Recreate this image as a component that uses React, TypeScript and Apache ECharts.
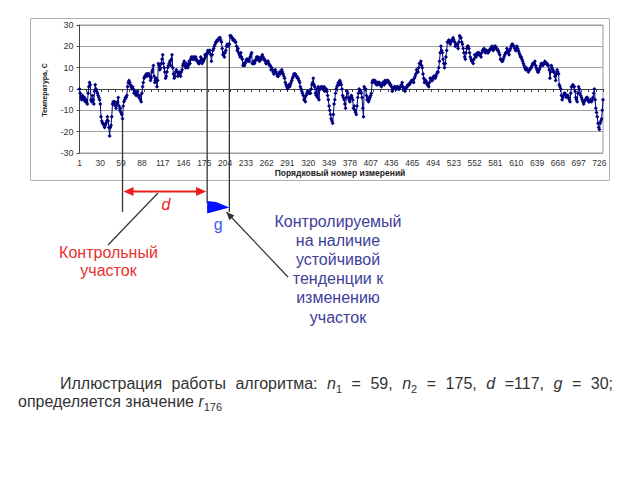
import React, { useEffect, useRef } from "react";
import * as echarts from "echarts";

const temperatures: number[] = [
  0, -2, -4, -5, -3, -4, -5, -4, -6, -5,
  -6, -7, -2, 1, 3, 2, -5, -6, -3, -5,
  -7, -1, 2, 0, -1, -2, -3, -4, -5, -7,
  -13, -15, -16, -16, -17, -18, -17, -16, -15, -13,
  -15, -18, -22, -18, -17, -13, -7, -6, -7, -6,
  -8, -9, -7, -6, -4, -8, -10, -9, -11, -12,
  -14, -8, -6, -5, -4, -4, -3, 1, 3, 4,
  3, 2, 1, 0, 1, 0, -2, -1, -2, -3,
  -2, -1, -3, -4, -3, -5, -6, -2, 1, 3,
  5, 6, 6, 7, 6, 7, 7, 7, 6, 4,
  5, 8, 9, 11, 6, 3, 4, 5, 1, 4,
  12, 11, 9, 10, 12, 14, 16, 12, 10, 8,
  5, 6, 8, 10, 11, 12, 13, 11, 14, 16,
  10, 7, 5, 6, 8, 9, 8, 6, 7, 8,
  7, 6, 8, 9, 11, 12,
  13, 11, 10, 12, 11,
  10, 11, 13, 12, 14, 15, 14, 15, 14, 15,
  14, 15, 14, 13, 13, 12, 12, 13, 15, 14,
  12, 14, 13, 14, 16, 15, 16, 17, 18, 17,
  18, 18, 16, 13, 16, 18, 19, 20, 21, 22,
  22, 23, 23, 23, 24, 24, 23, 22, 19, 16,
  17, 15, 17, 18, 20, 21, 20, 21, 21, 25,
  25, 24, 24, 23, 23, 23, 22, 22, 20, 18,
  19, 17, 16, 15, 17, 15, 14, 11, 12, 11,
  12, 13, 14, 14, 13, 14, 13, 15, 16, 17,
  12, 12, 13, 12, 13, 14, 15, 14, 15, 14,
  13, 14, 15, 14, 16, 15, 14, 14, 13, 12,
  12, 13, 13, 12, 11, 11, 9, 10, 9, 8,
  7, 8, 9, 8, 7, 6, 6, 7, 8, 7,
  8, 9, 8, 7, 6, 5, 3, 2, 1, 0, 1,
  2, 1, 2, 3, 4, 5, 6, 7, 7, 7,
  6, 6, 5, 5, 4, 3, 1, 0, -1, -2,
  -3, -5, -4, -6, -3, -2, -1, -2, -1, -2,
  -2, 0, 2, 3, 5, 2, 1, -2, -3, 0,
  -4, 1, -5, 0, 0, 1, 1, 0, 0, 1,
  -1, 0, 0, -1, -3, -5, -8, -10, -12, -14,
  -15, -16, -12, -7, -5, -2, 0, 1, 2, 3,
  2, 4, 3, 2, 0, -3, -4, -5, -7, -9,
  -4, -1, -2, -4, -5, -6, -4, -3, -4, -5,
  -9, -8, -10, -11, -12, -8, -4, -2, 0, -1,
  -1, -2, -4, -9, -13, 1, 0, 0, -3, -5,
  -4, -6, -5, -4, -3, -2, 3, 4, 4, 3,
  4, 3, 2, 3, 2, 3, 3, 2, 2, 1,
  2, 3, 3, 2, 4, 3, 3, 4, 4, 3,
  3, 2, 2, 1, -1, 0,
  0, 1, 1, 0, 0,
  1, 1, 0, 0, 1, 1, 2, 3, 1, 0,
  0, -1, 0, 1, 1, 2, 2, 2, 3, 3,
  4, 4, 4, 3, 5, 6, 7, 9, 8, 8,
  10, 12, 12, 13, 11, 10, 7, 5, 3, 4,
  4, 3, 2, 2, 1, 3, 5, 5, 4, 4,
  5, 6, 6, 5, 6, 7, 8, 8, 10, 13,
  17, 20, 18, 17, 14, 12, 10, 12, 15, 18,
  22, 22, 23, 22, 21, 22, 23, 23, 24, 23,
  22, 20, 21, 21, 20, 19, 22, 25, 24, 24,
  22, 21, 19, 17, 15, 14, 17, 19, 20, 20,
  19, 17, 15, 14, 13, 13, 12, 14, 16, 16,
  15, 16, 17, 16, 17, 16, 16, 15, 17, 18,
  18, 19, 18, 17, 18, 18, 17, 17, 18, 18,
  19, 19, 20, 19, 18, 19, 20, 20, 19, 19, 18,
  18, 17, 16, 14, 14, 13, 13, 14, 15, 16,
  17, 17, 19, 18, 17, 16, 18, 19, 20, 21,
  21, 20, 20, 19, 18, 18, 20, 19, 18, 17,
  16, 15, 15, 14, 13, 12, 11, 10, 9, 10,
  9, 9, 8, 9, 9, 10, 10, 11, 12, 12,
  12, 13, 11, 10, 9, 8, 8, 9, 10, 11,
  12, 12, 11, 12, 12, 13, 12, 12, 12, 11,
  11, 9, 5, 8, 11, 10, 9, 8, 8, 6,
  4, 7, 9, 8, 7, 2, 1, 0, -3, -5,
  -4, -3, -2, -2, -3, -4, -3, -3, -4, -5,
  -6, -2, 1, 1, 2, 1, 1, -1, -4, -5,
  -6, -2, 1, 0, -2, -3, -4, -5, -6, -7,
  -6, -5, -5, -4, -4, -5, -6, -6, -5, -5,
  -6, -5, -4, -2, 0, -5, -9, -11, -13, -16, -18,
  -19, -16, -15, -14, -10, -5,
];

const categories: string[] = temperatures.map((_, i) => String(i + 1));
const yMin = -30;
const yMax = 30;
const yStep = 10;
const labelStep = 29;
// category indices (0-based) where the reference draws its three vertical markers
const markerIndices: number[] = [60, 178, 209];

const yAxisTitle = "Температура, С";
const xAxisTitle = "Порядковый номер измерений";
const controlLabel = ["Контрольный", "участок"];
const checkedLabel = ["Контролируемый", "на наличие", "устойчивой", "тенденции к", "изменению", "участок"];
const n1 = 59;
const n2 = 175;
const dVal = 117;
const gVal = 30;
const rIndex = 176;

const FONT = "'Liberation Sans', Arial, sans-serif";

export default function App() {
  const ref = useRef<HTMLDivElement>(null);

  useEffect(() => {
    document.body.style.margin = "0";
    const chart = echarts.init(ref.current!, null, { renderer: "svg" });
    chart.setOption({
      animation: false,
      backgroundColor: "#fff",
      grid: {
        left: 79.5,
        right: 37,
        top: 25,
        bottom: 327,
        show: true,
        borderColor: "#999",
        borderWidth: 1,
        backgroundColor: "#fff",
      },
      xAxis: {
        type: "category",
        data: categories,
        boundaryGap: false,
        axisLine: { lineStyle: { color: "#444", width: 1 } },
        axisTick: { interval: 9, length: 3, lineStyle: { color: "#444" } },
        axisLabel: { interval: labelStep - 1, fontSize: 8.5, color: "#333", margin: 5, fontFamily: FONT },
        splitLine: { show: false },
      },
      yAxis: {
        type: "value",
        min: yMin,
        max: yMax,
        interval: yStep,
        axisLine: { show: true, lineStyle: { color: "#444" } },
        axisTick: { show: true, length: 3, lineStyle: { color: "#444" } },
        axisLabel: { fontSize: 9, color: "#333", margin: 6, fontFamily: FONT },
        splitLine: { lineStyle: { color: "#a0a0a0", width: 1 } },
      },
      series: [
        {
          type: "line",
          data: temperatures,
          showAllSymbol: true,
          symbol: "diamond",
          symbolSize: 4,
          lineStyle: { color: "#000080", width: 1 },
          itemStyle: { color: "#000080" },
        },
      ],
    });

    const pts = markerIndices.map(
      (k) => chart.convertToPixel({ seriesIndex: 0 }, [k, temperatures[k]]) as number[]
    );
    const [x1, x2, x3] = pts.map((p) => p[0]);

    const cv = document.createElement("canvas").getContext("2d")!;
    const fontOf = (kind: string) =>
      kind === "i" ? `italic 16px ${FONT}` : kind === "s" ? `11px ${FONT}` : `16px ${FONT}`;
    const measure = (t: string, kind: string) => {
      cv.font = fontOf(kind);
      return cv.measureText(t).width;
    };
    const runEl = (t: string, kind: string, x: number, y: number) => ({
      type: "text",
      x,
      y: kind === "s" ? y + 6 : y,
      style: {
        text: t,
        fontSize: kind === "s" ? 11 : 16,
        fontStyle: kind === "i" ? "italic" : "normal",
        fontFamily: FONT,
        fill: "#333",
        align: "left",
        verticalAlign: "middle",
      },
    });

    const pieces1: [string, string][][] = [
      [["Иллюстрация", "n"]],
      [["работы", "n"]],
      [["алгоритма:", "n"]],
      [["n", "i"], ["1", "s"]],
      [["=", "n"]],
      [[`${n1},`, "n"]],
      [["n", "i"], ["2", "s"]],
      [["=", "n"]],
      [[`${n2},`, "n"]],
      [["d", "i"]],
      [[`=${dVal},`, "n"]],
      [["g", "i"]],
      [["=", "n"]],
      [[`${gVal};`, "n"]],
    ];
    const line1Left = 60;
    const line1Right = 613;
    const widths = pieces1.map((p) => p.reduce((s, [t, k]) => s + measure(t, k), 0));
    const gap = (line1Right - line1Left - widths.reduce((a, b) => a + b, 0)) / (pieces1.length - 1);
    const textEls: any[] = [];
    let cx = line1Left;
    pieces1.forEach((p, i) => {
      let rx = cx;
      p.forEach(([t, k]) => {
        textEls.push(runEl(t, k, rx, 383));
        rx += measure(t, k);
      });
      cx += widths[i] + gap;
    });
    const line2: [string, string][] = [
      ["определяется значение ", "n"],
      ["r", "i"],
      [String(rIndex), "s"],
    ];
    let lx = 18;
    line2.forEach(([t, k]) => {
      textEls.push(runEl(t, k, lx, 401));
      lx += measure(t, k);
    });

    const arrowHead = (tip: number[], from: number[], len: number, half: number, color: string) => {
      const dx = tip[0] - from[0];
      const dy = tip[1] - from[1];
      const L = Math.hypot(dx, dy);
      const ux = dx / L;
      const uy = dy / L;
      const bx = tip[0] - ux * len;
      const by = tip[1] - uy * len;
      return {
        type: "polygon",
        shape: {
          points: [
            [tip[0], tip[1]],
            [bx - uy * half, by + ux * half],
            [bx + uy * half, by - ux * half],
          ],
        },
        style: { fill: color },
      };
    };

    const redY = 191.5;
    const red = "#ee1c1c";
    const tipB: number[] = [x3 - 3, 212];
    const fromB: number[] = [288, 277];

    chart.setOption({
      graphic: [
        {
          type: "rect",
          shape: { x: 30.5, y: 18.5, width: 579, height: 162 },
          style: { fill: "none", stroke: "#b0b0b0", lineWidth: 1 },
          silent: true,
        },
        {
          type: "text",
          x: 44,
          y: 90,
          rotation: Math.PI / 2,
          style: {
            text: yAxisTitle,
            fontSize: 7,
            fontWeight: "bold",
            fontFamily: FONT,
            fill: "#222",
            align: "center",
            verticalAlign: "middle",
          },
        },
        {
          type: "text",
          x: 340,
          y: 173,
          style: {
            text: xAxisTitle,
            fontSize: 8.5,
            fontWeight: "bold",
            fontFamily: FONT,
            fill: "#222",
            align: "center",
            verticalAlign: "middle",
          },
        },
        // vertical marker lines from data points down
        { type: "line", shape: { x1: x1, y1: pts[0][1], x2: x1, y2: 212 }, style: { stroke: "#333", lineWidth: 1.3 } },
        { type: "line", shape: { x1: x2, y1: pts[1][1], x2: x2, y2: 203 }, style: { stroke: "#333", lineWidth: 1.3 } },
        { type: "line", shape: { x1: x3, y1: pts[2][1], x2: x3, y2: 212 }, style: { stroke: "#333", lineWidth: 1.3 } },
        // red double arrow d
        { type: "line", shape: { x1: x1 + 8, y1: redY, x2: x2 - 8, y2: redY }, style: { stroke: red, lineWidth: 2 } },
        arrowHead([x1 + 1, redY], [x2, redY], 10, 4.5, red),
        arrowHead([x2 - 1, redY], [x1, redY], 10, 4.5, red),
        {
          type: "text",
          x: (x1 + x2) / 2 + 1,
          y: 204,
          style: { text: "d", fontSize: 16, fontStyle: "italic", fontFamily: FONT, fill: red, align: "center", verticalAlign: "middle" },
        },
        // blue arrow g
        {
          type: "polygon",
          shape: { points: [[x2, 201], [x2 + 9, 202], [x3, 207.5], [x2, 213.5]] },
          style: { fill: "#0010ff" },
        },
        {
          type: "text",
          x: (x2 + x3) / 2,
          y: 224,
          style: { text: "g", fontSize: 16, fontFamily: FONT, fill: "#3a5be8", align: "center", verticalAlign: "middle" },
        },
        // pointer lines
        { type: "line", shape: { x1: 108, y1: 245, x2: 158, y2: 193 }, style: { stroke: "#333", lineWidth: 1.2 } },
        { type: "line", shape: { x1: fromB[0], y1: fromB[1], x2: tipB[0], y2: tipB[1] }, style: { stroke: "#333", lineWidth: 1.2 } },
        arrowHead(tipB, fromB, 8, 3.5, "#333"),
        // red label
        ...controlLabel.map((t, i) => ({
          type: "text",
          x: 108.5,
          y: 252 + i * 18.5,
          style: { text: t, fontSize: 16, fontFamily: FONT, fill: "#e8302c", align: "center", verticalAlign: "middle" },
        })),
        // indigo label
        ...checkedLabel.map((t, i) => ({
          type: "text",
          x: 338,
          y: 221 + i * 19.2,
          style: { text: t, fontSize: 16, fontFamily: FONT, fill: "#40409a", align: "center", verticalAlign: "middle" },
        })),
        ...textEls,
      ],
    });

    return () => chart.dispose();
  }, []);

  return <div ref={ref} style={{ width: 640, height: 480 }} />;
}
